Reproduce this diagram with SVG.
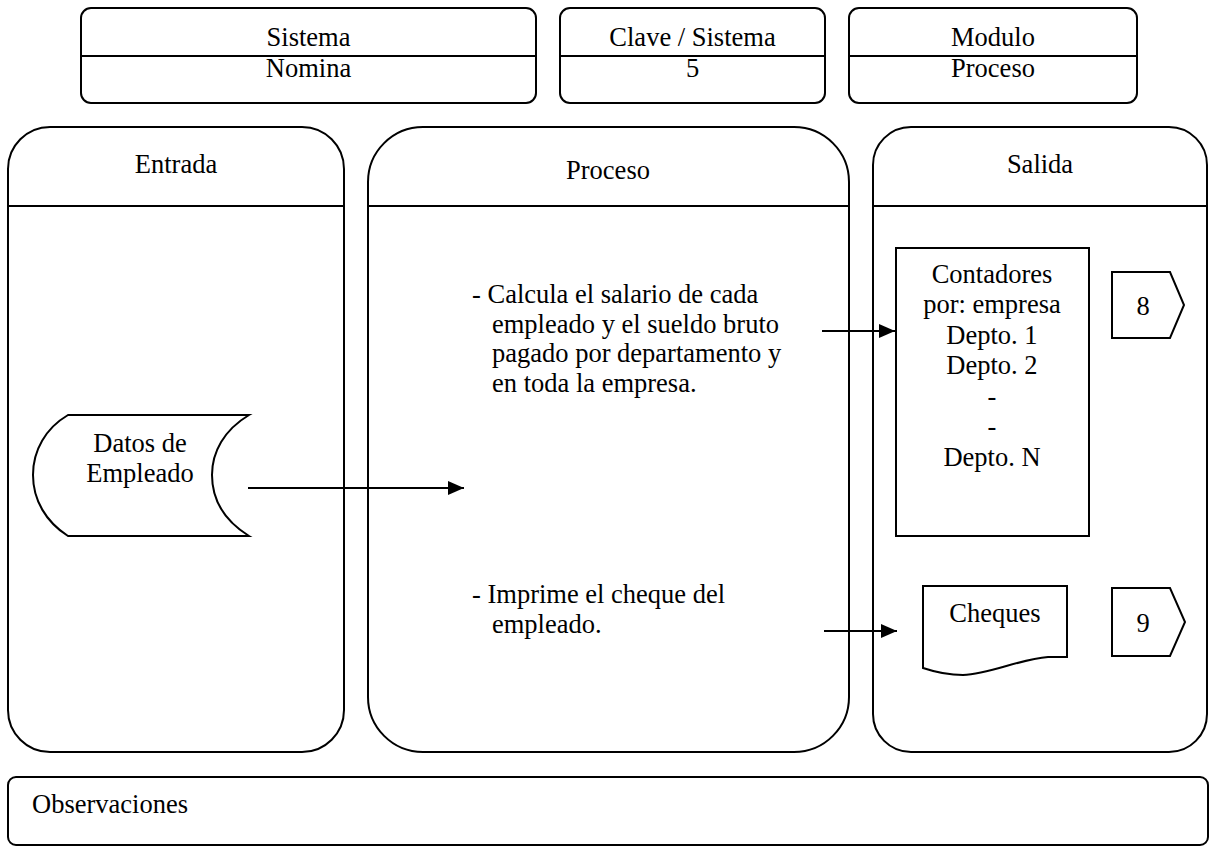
<svg xmlns="http://www.w3.org/2000/svg" width="1211" height="846" viewBox="0 0 1211 846" font-family="'Liberation Serif', 'Times New Roman', 'DejaVu Serif', serif">
<style>
  .box { fill: #fff; stroke: #000; stroke-width: 2; }
  .ln { stroke: #000; stroke-width: 2; fill: none; }
  .t { font-family: 'Liberation Serif', 'Times New Roman', 'DejaVu Serif', serif; font-size: 26.5px; fill: #000; }
  .c { text-anchor: middle; }
  .conn { stroke: #000; stroke-width: 2; fill: none; }
</style>
<defs>
  <marker id="ah" markerUnits="userSpaceOnUse" markerWidth="16" markerHeight="14" refX="16" refY="7" orient="auto">
    <path d="M0,0 L16,7 L0,14 Z" fill="#000"/>
  </marker>
</defs>
<rect width="1211" height="846" fill="#fff"/>

<g id="sistema">
  <rect class="box" x="81" y="8" width="455" height="95" rx="10"/>
  <line class="ln" x1="81" y1="56" x2="536" y2="56"/>
  <text class="t c" x="308.5" y="46">Sistema</text>
  <text class="t c" x="308.5" y="77">Nomina</text>
</g>
<g id="clave">
  <rect class="box" x="560" y="8" width="265" height="95" rx="10"/>
  <line class="ln" x1="560" y1="56" x2="825" y2="56"/>
  <text class="t c" x="692.5" y="46">Clave / Sistema</text>
  <text class="t c" x="692.5" y="77">5</text>
</g>
<g id="modulo">
  <rect class="box" x="849" y="8" width="288" height="95" rx="10"/>
  <line class="ln" x1="849" y1="56" x2="1137" y2="56"/>
  <text class="t c" x="993" y="46">Modulo</text>
  <text class="t c" x="993" y="77">Proceso</text>
</g>

<g id="entrada">
  <rect class="box" x="8" y="127" width="336" height="625" rx="42"/>
  <line class="ln" x1="8" y1="206" x2="344" y2="206"/>
  <text class="t c" x="176" y="173">Entrada</text>
</g>
<g id="proceso">
  <rect class="box" x="368" y="127" width="481" height="625" rx="55"/>
  <line class="ln" x1="368" y1="206" x2="849" y2="206"/>
  <text class="t c" x="608" y="179">Proceso</text>
  <text class="t" x="472" y="303">- Calcula el salario de cada</text>
  <text class="t" x="492" y="333">empleado y el sueldo bruto</text>
  <text class="t" x="492" y="362">pagado por departamento y</text>
  <text class="t" x="492" y="392">en toda la empresa.</text>
  <text class="t" x="472" y="603">- Imprime el cheque del</text>
  <text class="t" x="492" y="633">empleado.</text>
</g>
<g id="salida">
  <rect class="box" x="873" y="127" width="334" height="625" rx="38"/>
  <line class="ln" x1="873" y1="206" x2="1207" y2="206"/>
  <text class="t c" x="1040" y="173">Salida</text>
</g>

<g id="datos-empleado">
  <path class="box" d="M68,415 L249,415 C224,430 212,452 212,475 C212,500 225,521 249,536 L68,536 C46,522 33,500 33,475 C33,450 46,428 68,415 Z"/>
  <text class="t c" x="140" y="452">Datos de</text>
  <text class="t c" x="140" y="482">Empleado</text>
</g>

<g id="contadores">
  <rect class="box" x="896" y="248" width="193" height="288"/>
  <text class="t c" x="992" y="283">Contadores</text>
  <text class="t c" x="992" y="313">por: empresa</text>
  <text class="t c" x="992" y="344">Depto. 1</text>
  <text class="t c" x="992" y="374">Depto. 2</text>
  <text class="t c" x="992" y="405">-</text>
  <text class="t c" x="992" y="435">-</text>
  <text class="t c" x="992" y="466">Depto. N</text>
</g>
<g id="conector-8">
  <path class="box" d="M1112,272 H1170 L1184,305 L1170,338 H1112 Z"/>
  <text class="t c" x="1143" y="315">8</text>
</g>

<g id="cheques">
  <path class="box" d="M923,586 H1067 V657 H1048 C1020,659 990,674 963,675 C945,675 932,671 923,668 Z"/>
  <text class="t c" x="995" y="622">Cheques</text>
</g>
<g id="conector-9">
  <path class="box" d="M1112,588 H1170 L1185,622 L1170,656 H1112 Z"/>
  <text class="t c" x="1143" y="632">9</text>
</g>

<g id="observaciones">
  <rect class="box" x="8" y="777" width="1200" height="68" rx="8"/>
  <text class="t" x="32" y="813">Observaciones</text>
</g>

<g id="connectors">
  <line class="conn" x1="248" y1="488" x2="464" y2="488" marker-end="url(#ah)"/>
  <line class="conn" x1="822" y1="331" x2="895" y2="331" marker-end="url(#ah)"/>
  <line class="conn" x1="824" y1="631" x2="897" y2="631" marker-end="url(#ah)"/>
</g>
</svg>
